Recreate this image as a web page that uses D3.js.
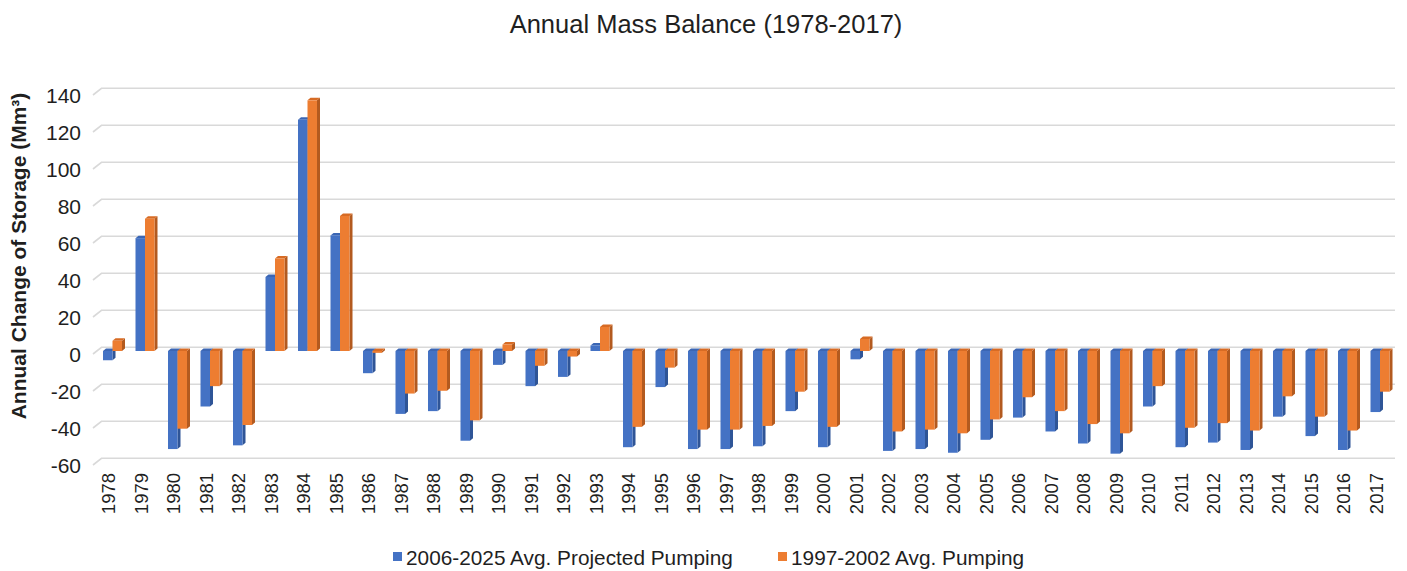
<!DOCTYPE html>
<html>
<head>
<meta charset="utf-8">
<script src="https://cdn.jsdelivr.net/npm/d3@7"></script>
<style>
  html, body { margin: 0; padding: 0; background: #ffffff; }
  svg { display: block; font-family: "Liberation Sans", Arial, sans-serif; }
</style>
</head>
<body>
<svg id="chart" width="1407" height="571"></svg>
<script>
// ---- data ----
const years = d3.range(1978, 2018).map(String);
const projectedPumping = [
  -5, 61, -53, -30, -51, 40, 125, 62.5, -12, -34,
  -32.5, -48.5, -7.5, -19, -14, 3, -52, -19.5, -53, -53,
  -51.5, -32.5, -52, -4.5, -54, -53, -55, -48, -36, -43.5,
  -50, -55.5, -30, -52, -49.5, -53.5, -35.5, -46, -53.5, -33
];
const historicPumping = [
  5.5, 71.5, -42, -19, -40, 50, 135.5, 73, -1, -23,
  -21.5, -37.5, 3.5, -8, -3, 13, -41, -9, -42.5, -42.5,
  -40.5, -22, -41, 6.5, -43.5, -42.5, -44.5, -37, -25, -32.5,
  -39.5, -44.5, -19, -41.5, -39, -43, -24.5, -35.5, -43, -22
];
const seriesNames = ["2006-2025 Avg. Projected Pumping", "1997-2002 Avg. Pumping"];
const yTicks = [-60, -40, -20, 0, 20, 40, 60, 80, 100, 120, 140];
const titleText = "Annual Mass Balance (1978-2017)";
const yTitleText = "Annual Change of Storage (Mm³)";

// ---- layout ----
const svg = d3.select("#chart");
const colors = [
  { front: "#4472C4", side: "#2F5597", top: "#3B66B4" },
  { front: "#ED7D31", side: "#B35A1F", top: "#D76B24" }
];
const depthX = 3, depthY = 2.5;      // 3D bar depth
const wallX = 8.5, wallY = 6.7;      // back-wall offset of gridlines
const barShift = 3;                  // bars sit between front and back plane

const x = d3.scaleBand().domain(years).range([91.75, 1391.75]);
const yFront = d3.scaleLinear().domain([-60, 140]).range([465, 95]);
const yBar = v => yFront(v) - barShift;

// gridlines
const grid = svg.append("g");
yTicks.forEach(t => {
  const yf = yFront(t), yb = yf - wallY;
  grid.append("path")
    .attr("d", `M93,${yf}L${93 + wallX},${yb}L1395,${yb}`)
    .attr("fill", "none").attr("stroke", "#d9d9d9").attr("stroke-width", 1.6);
});

// y tick labels
svg.append("g").selectAll("text").data(yTicks).join("text")
  .attr("x", 81).attr("y", d => yFront(d))
  .attr("text-anchor", "end").attr("dominant-baseline", "central")
  .attr("font-size", 21).attr("fill", "#1f1f1f")
  .text(d => d);

// bars
function drawBar(g, cx, w, v, c) {
  const y0 = yBar(0), y1 = yBar(v);
  const top = Math.min(y0, y1), bot = Math.max(y0, y1);
  g.append("path")
    .attr("d", `M${cx + w},${top}L${cx + w + depthX},${top - depthY}L${cx + w + depthX},${bot - depthY}L${cx + w},${bot}Z`)
    .attr("fill", c.side);
  g.append("path")
    .attr("d", `M${cx},${top}L${cx + depthX},${top - depthY}L${cx + w + depthX},${top - depthY}L${cx + w},${top}Z`)
    .attr("fill", c.top);
  g.append("rect").attr("x", cx).attr("y", top).attr("width", w).attr("height", Math.max(0.8, bot - top))
    .attr("fill", c.front);
}
const barsG = svg.append("g");
const bw = 9.5;
years.forEach((yr, i) => {
  const c = x(yr) + x.bandwidth() / 2;
  drawBar(barsG, c - 5, bw, projectedPumping[i], colors[0]);
  drawBar(barsG, c - 5 + bw, bw, historicPumping[i], colors[1]);
});

// x labels
svg.append("g").selectAll("text").data(years).join("text")
  .attr("transform", d => `translate(${x(d) + x.bandwidth() / 2 + 7},473) rotate(-90)`)
  .attr("text-anchor", "end")
  .attr("font-size", 18.5).attr("fill", "#1f1f1f")
  .text(d => d);

// title
svg.append("text").attr("x", 706).attr("y", 33).attr("text-anchor", "middle")
  .attr("font-size", 25.5).attr("fill", "#1f1f1f").text(titleText);

// y title
svg.append("text").attr("transform", "translate(26,256) rotate(-90)")
  .attr("text-anchor", "middle").attr("font-size", 21).attr("font-weight", "bold")
  .attr("fill", "#1f1f1f").text(yTitleText);

// legend
const legendX = [393, 778];
seriesNames.forEach((name, i) => {
  svg.append("rect").attr("x", legendX[i]).attr("y", 552).attr("width", 9).attr("height", 9)
    .attr("fill", colors[i].front);
  svg.append("text").attr("x", legendX[i] + 13).attr("y", 557).attr("dominant-baseline", "central")
    .attr("font-size", 20.8).attr("fill", "#1f1f1f").text(name);
});
</script>
</body>
</html>
